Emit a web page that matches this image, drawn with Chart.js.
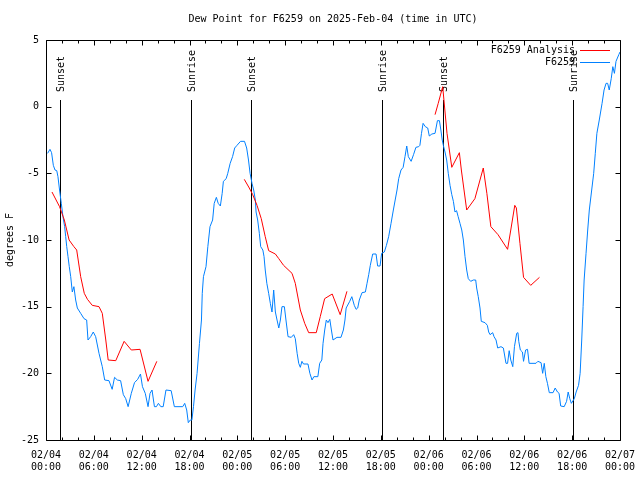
<!DOCTYPE html>
<html>
<head>
<meta charset="utf-8">
<title>Dew Point for F6259</title>
<script src="https://cdn.jsdelivr.net/npm/chart.js@4.4.1/dist/chart.umd.min.js"></script>
<style>
  body { margin: 0; background: #fff; }
  canvas { display: block; }
</style>
</head>
<body>
<canvas id="chart" width="640" height="480"></canvas>
<script>
// hours since 2025-02-04 00:00 UTC
var obsHours = [0.2, 0.5, 0.7, 0.92, 1.13, 1.35, 1.5, 1.7, 1.92, 2.13, 2.34, 2.47, 2.6, 2.76, 2.92, 3.1, 3.3, 3.5, 3.72, 3.93,
    4.35, 4.77, 5.1, 5.27, 5.6, 5.93, 6.23, 6.65, 7.06, 7.36, 7.9, 8.3, 8.6, 8.95, 9.36, 9.7, 10.0, 10.3, 10.7, 11.1,
    11.5, 11.85, 12.1, 12.45, 12.8, 13.05, 13.3, 13.6, 13.85, 14.1, 14.4, 14.7, 15.05, 15.7, 16.1, 17.15, 17.4, 17.65, 17.85, 18.1,
    18.3, 18.5, 18.7, 18.95, 19.25, 19.5, 19.6, 19.75, 20.07, 20.3, 20.57, 20.9, 21.1, 21.37, 21.6, 21.87, 22.1, 22.25, 22.6, 22.8,
    23.1, 23.4, 23.67, 23.96, 24.4, 24.9, 25.17, 25.4, 25.6, 25.84, 26.05, 26.26, 26.35, 26.55, 26.76, 26.93, 27.2, 27.35, 27.5, 27.7,
    27.93, 28.14, 28.35, 28.56, 28.77, 28.98, 29.2, 29.4, 29.6, 29.9, 30.1, 30.36, 30.77, 31.07, 31.27, 31.5, 31.7, 31.9, 32.1, 32.3,
    32.86, 33.1, 33.37, 33.6, 34.1, 34.33, 34.6, 34.75, 34.96, 35.16, 35.37, 35.6, 35.8, 36.0, 36.5, 37.0, 37.3, 37.5, 37.65, 38.1,
    38.36, 38.67, 38.9, 39.1, 39.3, 39.64, 40.06, 40.27, 40.48, 40.68, 40.98, 41.4, 41.6, 41.9, 42.1, 42.44, 42.7, 42.98, 43.28, 43.57,
    43.8, 44.03, 44.24, 44.53, 44.8, 45.03, 45.25, 45.45, 45.8, 46.1, 46.4, 46.75, 46.9, 47.1, 47.3, 47.58, 47.88, 48.08, 48.4, 48.8,
    49.1, 49.35, 49.53, 49.7, 49.84, 50.05, 50.26, 50.46, 50.68, 50.9, 51.1, 51.3, 51.5, 51.7, 51.93, 52.15, 52.35, 52.56, 52.77, 52.97,
    53.27, 53.6, 53.9, 54.02, 54.22, 54.44, 54.6, 55.07, 55.36, 55.53, 55.7, 56.03, 56.2, 56.45, 56.66, 57.07, 57.37, 57.7, 57.9, 58.1,
    58.3, 58.55, 58.76, 59.04, 59.2, 59.3, 59.5, 59.76, 59.9, 60.16, 60.4, 60.6, 61.46, 61.7, 62.1, 62.3, 62.5, 62.7, 62.9, 63.13,
    63.6, 63.87, 64.16, 64.36, 64.56, 65.0, 65.3, 65.5, 65.7, 65.9, 66.27, 66.5, 66.8, 67.0, 67.2, 67.37, 67.5, 67.74, 67.95, 68.15,
    68.45, 68.7, 68.9, 69.1, 69.4, 69.75, 70.0, 70.25, 70.45, 70.65, 70.9, 71.1, 71.3, 71.5, 71.85, 72.0];
var obsDewpt = [-3.5, -3.2, -3.45, -4.4, -4.75, -4.8, -5.25, -6.25, -7.25, -8.25, -9, -9.75, -10.5, -11.25, -12, -12.75, -13.9, -13.5, -14.5, -15.1,
    -15.5, -15.9, -16, -17.5, -17.25, -16.9, -17.25, -18.5, -19.5, -20.5, -20.55, -21.2, -20.3, -20.5, -20.55, -21.6, -21.9, -22.5, -21.5, -20.7,
    -20.45, -20.05, -21, -21.5, -22.5, -21.5, -21.25, -22.5, -22.5, -22.25, -22.5, -22.5, -21.25, -21.3, -22.5, -22.5, -22.25, -22.75, -23.7, -23.5,
    -23.5, -22.5, -21.25, -20, -17.75, -16, -14, -12.75, -12, -10.5, -9, -8.5, -7.25, -6.8, -7.25, -7.45, -6.5, -5.6, -5.4, -5,
    -4.25, -3.75, -3.1, -2.9, -2.6, -2.6, -3.1, -4, -5, -5.75, -6.25, -7, -7.9, -8.5, -9.5, -10.5, -10.75, -11.25, -12.25, -13.25,
    -14, -14.75, -15.4, -13.75, -15.4, -16, -16.6, -16, -15, -15, -16, -17.25, -17.3, -17.1, -17.4, -18.5, -19.25, -19.55, -19.1, -19.3,
    -19.3, -20, -20.5, -20.25, -20.25, -19.25, -19, -17.75, -16.75, -16, -16.2, -15.95, -16.75, -17.5, -17.3, -17.3, -16.75, -16, -15.1, -14.6,
    -14.25, -14.9, -15.2, -15.1, -14.5, -13.95, -13.9, -13.25, -12.6, -11.9, -11.05, -11.05, -11.95, -11.95, -11, -10.9, -10.4, -9.75, -8.75, -7.75,
    -7, -6.25, -5.4, -4.75, -4.55, -3.75, -2.95, -3.75, -4.1, -3.6, -3.05, -3, -2.9, -2, -1.25, -1.5, -1.6, -2.2, -2.05, -2,
    -1.05, -1.05, -1.75, -2.5, -2.9, -3.4, -4, -5, -5.9, -6.6, -7.1, -7.9, -7.8, -8.25, -8.75, -9.25, -10, -11.25, -12.25, -12.9,
    -13.1, -13, -13, -13.6, -14.25, -15.1, -16.1, -16.2, -16.4, -16.9, -17.1, -16.95, -17.25, -17.5, -18.1, -18, -18.1, -19.25, -19.25, -18.3,
    -19, -19.5, -18, -17, -16.95, -17.6, -18.25, -18.4, -19.1, -18.25, -18.2, -19.25, -19.25, -19.1, -19.2, -20, -19.25, -20.25, -20.75, -21.45,
    -21.45, -21.1, -21.4, -21.5, -22.45, -22.5, -22.1, -21.4, -21.9, -22.25, -21.9, -21.4, -20.9, -20, -17.5, -15, -13, -11, -9.25, -7.75,
    -6.25, -5, -3.5, -2, -1, 0.25, 1.25, 1.75, 1.75, 1.25, 2.1, 3, 2.5, 3.4, 3.9, 4.1];

// analysis, null = gap between runs
var anaHours = [0.75, 1.7, 2.3, 2.9, 3.5, 3.85, 4.35, 4.8, 5.2, 5.8, 6.65, 7.06, 7.5, 7.8, 8.75, 9.8, 10.7, 11.8, 12.8, 13.9,
    18.0,
    24.87, 25.5, 25.93, 26.47, 27.0, 27.5, 27.93, 28.77, 29.2, 29.8, 30.86, 31.27, 31.9, 32.45, 32.95, 33.9, 34.4, 34.95, 35.9, 36.9, 37.75,
    42.0,
    48.8, 49.2, 49.76, 50.3, 50.9, 51.85, 52.1, 52.77, 53.8, 54.85, 55.3, 55.8, 56.7, 57.9, 58.3, 58.8, 59.0, 59.45, 59.9, 60.8, 61.9];
var anaDewpt = [-6.4, -7.5, -8.5, -10, -10.5, -10.75, -12.75, -14, -14.45, -14.9, -15, -15.5, -17.5, -19, -19.05, -17.6, -18.25, -18.2, -20.6, -19.1,
    null,
    -5.45, -6.1, -6.6, -7.4, -8.4, -9.75, -10.8, -11.05, -11.4, -11.9, -12.5, -13.25, -15.25, -16.25, -16.95, -16.95, -15.75, -14.4, -14.05, -15.6, -13.85,
    null,
    -0.6, 0.25, 1.5, -2, -4.55, -3.45, -4.75, -7.75, -6.9, -4.6, -6.5, -9, -9.6, -10.7, -9.25, -7.4, -7.6, -10.25, -12.8, -13.4, -12.8];

var sunsetHours = [1.7, 25.75, 49.8];
var sunriseHours = [18.2, 42.2, 66.15];

var tickDays = ['02/04', '02/04', '02/04', '02/04', '02/05', '02/05', '02/05', '02/05', '02/06', '02/06', '02/06', '02/06', '02/07'];
var tickTimes = ['00:00', '06:00', '12:00', '18:00', '00:00', '06:00', '12:00', '18:00', '00:00', '06:00', '12:00', '18:00', '00:00'];

var FONT = '"DejaVu Sans Mono", "Liberation Mono", monospace';

function toPoints(xs, ys) {
    var out = [];
    for (var i = 0; i < xs.length; i++) {
        out.push({x: xs[i], y: ys[i]});
    }
    return out;
}

function crisp(v) {
    return Math.round(v) + 0.5;
}

// gnuplot look: closed border, inward mirrored tics, sun marks, key in the corner
var gnuplotDecor = {
    id: 'gnuplotDecor',
    beforeDatasetsDraw: function (chart) {
        var ctx = chart.ctx, a = chart.chartArea, xs = chart.scales.x;
        ctx.save();
        ctx.strokeStyle = '#000';
        ctx.fillStyle = '#000';
        ctx.lineWidth = 1;
        ctx.font = '10px ' + FONT;
        function mark(h, text) {
            var px = crisp(xs.getPixelForValue(h));
            ctx.beginPath();
            ctx.moveTo(px, 100);
            ctx.lineTo(px, a.bottom);
            ctx.stroke();
            ctx.save();
            ctx.translate(px + 1, 92);
            ctx.rotate(-Math.PI / 2);
            ctx.textAlign = 'left';
            ctx.textBaseline = 'middle';
            ctx.fillText(text, 0, 0);
            ctx.restore();
        }
        sunsetHours.forEach(function (h) { mark(h, 'Sunset'); });
        sunriseHours.forEach(function (h) { mark(h, 'Sunrise'); });
        ctx.restore();
    },
    afterDraw: function (chart) {
        var ctx = chart.ctx, a = chart.chartArea;
        var xs = chart.scales.x, ys = chart.scales.y;
        var l = crisp(a.left), r = crisp(a.right), t = crisp(a.top), b = crisp(a.bottom);
        ctx.save();
        ctx.strokeStyle = '#000';
        ctx.lineWidth = 1;
        ctx.beginPath();
        ctx.rect(l, t, r - l, b - t);
        // x tics: major every 6 h, minor every 2 h
        for (var h = xs.min; h <= xs.max; h += 2) {
            var len = (h % 6 === 0) ? 5 : 3;
            var px = crisp(xs.getPixelForValue(h));
            ctx.moveTo(px, b); ctx.lineTo(px, b - len);
            ctx.moveTo(px, t); ctx.lineTo(px, t + len);
        }
        ys.ticks.forEach(function (tk) {
            var py = crisp(ys.getPixelForValue(tk.value));
            ctx.moveTo(l, py); ctx.lineTo(l + 5, py);
            ctx.moveTo(r, py); ctx.lineTo(r - 5, py);
        });
        ctx.stroke();

        // key
        ctx.font = '10px ' + FONT;
        ctx.textAlign = 'right';
        ctx.textBaseline = 'middle';
        ctx.fillStyle = '#000';
        chart.data.datasets.forEach(function (ds, i) {
            var y = 50 + i * 12;
            ctx.fillText(ds.label, 575, y);
            ctx.strokeStyle = ds.borderColor;
            ctx.beginPath();
            ctx.moveTo(580, y + 0.5);
            ctx.lineTo(610, y + 0.5);
            ctx.stroke();
        });
        ctx.restore();
    }
};

new Chart(document.getElementById('chart').getContext('2d'), {
    type: 'line',
    data: {
        datasets: [{
            label: 'F6259 Analysis',
            data: toPoints(anaHours, anaDewpt),
            borderColor: '#ff0000',
            borderWidth: 1,
            pointRadius: 0,
            tension: 0,
            spanGaps: false,
            fill: false
        }, {
            label: 'F6259',
            data: toPoints(obsHours, obsDewpt),
            borderColor: '#0080ff',
            borderWidth: 1,
            pointRadius: 0,
            tension: 0,
            fill: false
        }]
    },
    options: {
        responsive: false,
        animation: false,
        devicePixelRatio: 1,
        layout: {padding: {left: 0, right: 20, top: 0, bottom: 0}},
        font: {family: FONT, size: 10},
        plugins: {
            legend: {display: false},
            tooltip: {enabled: false},
            title: {
                display: true,
                text: 'Dew Point for F6259 on 2025-Feb-04 (time in UTC)',
                fullSize: false,
                color: '#000',
                font: {family: FONT, size: 10, weight: 'normal'},
                padding: {top: 13, bottom: 15}
            }
        },
        scales: {
            x: {
                type: 'linear',
                min: 0,
                max: 72,
                grid: {display: false, drawTicks: false},
                border: {display: false},
                ticks: {
                    stepSize: 6,
                    autoSkip: false,
                    maxRotation: 0,
                    padding: 9,
                    color: '#000',
                    font: {family: FONT, size: 10},
                    callback: function (value) {
                        var i = Math.round(value / 6);
                        return [tickDays[i], tickTimes[i]];
                    }
                },
                afterFit: function (scale) {
                    scale.height = 40;
                    scale.paddingLeft = 0;
                    scale.paddingRight = 0;
                }
            },
            y: {
                min: -25,
                max: 5,
                grid: {display: false, drawTicks: false},
                border: {display: false},
                ticks: {
                    stepSize: 5,
                    padding: 7,
                    color: '#000',
                    font: {family: FONT, size: 10}
                },
                title: {
                    display: true,
                    text: 'degrees F',
                    color: '#000',
                    font: {family: FONT, size: 10},
                    padding: {top: 4, bottom: 4}
                },
                afterFit: function (scale) {
                    scale.width = 46;
                    scale.paddingTop = 0;
                    scale.paddingBottom = 0;
                }
            }
        }
    },
    plugins: [gnuplotDecor]
});
</script>
</body>
</html>
